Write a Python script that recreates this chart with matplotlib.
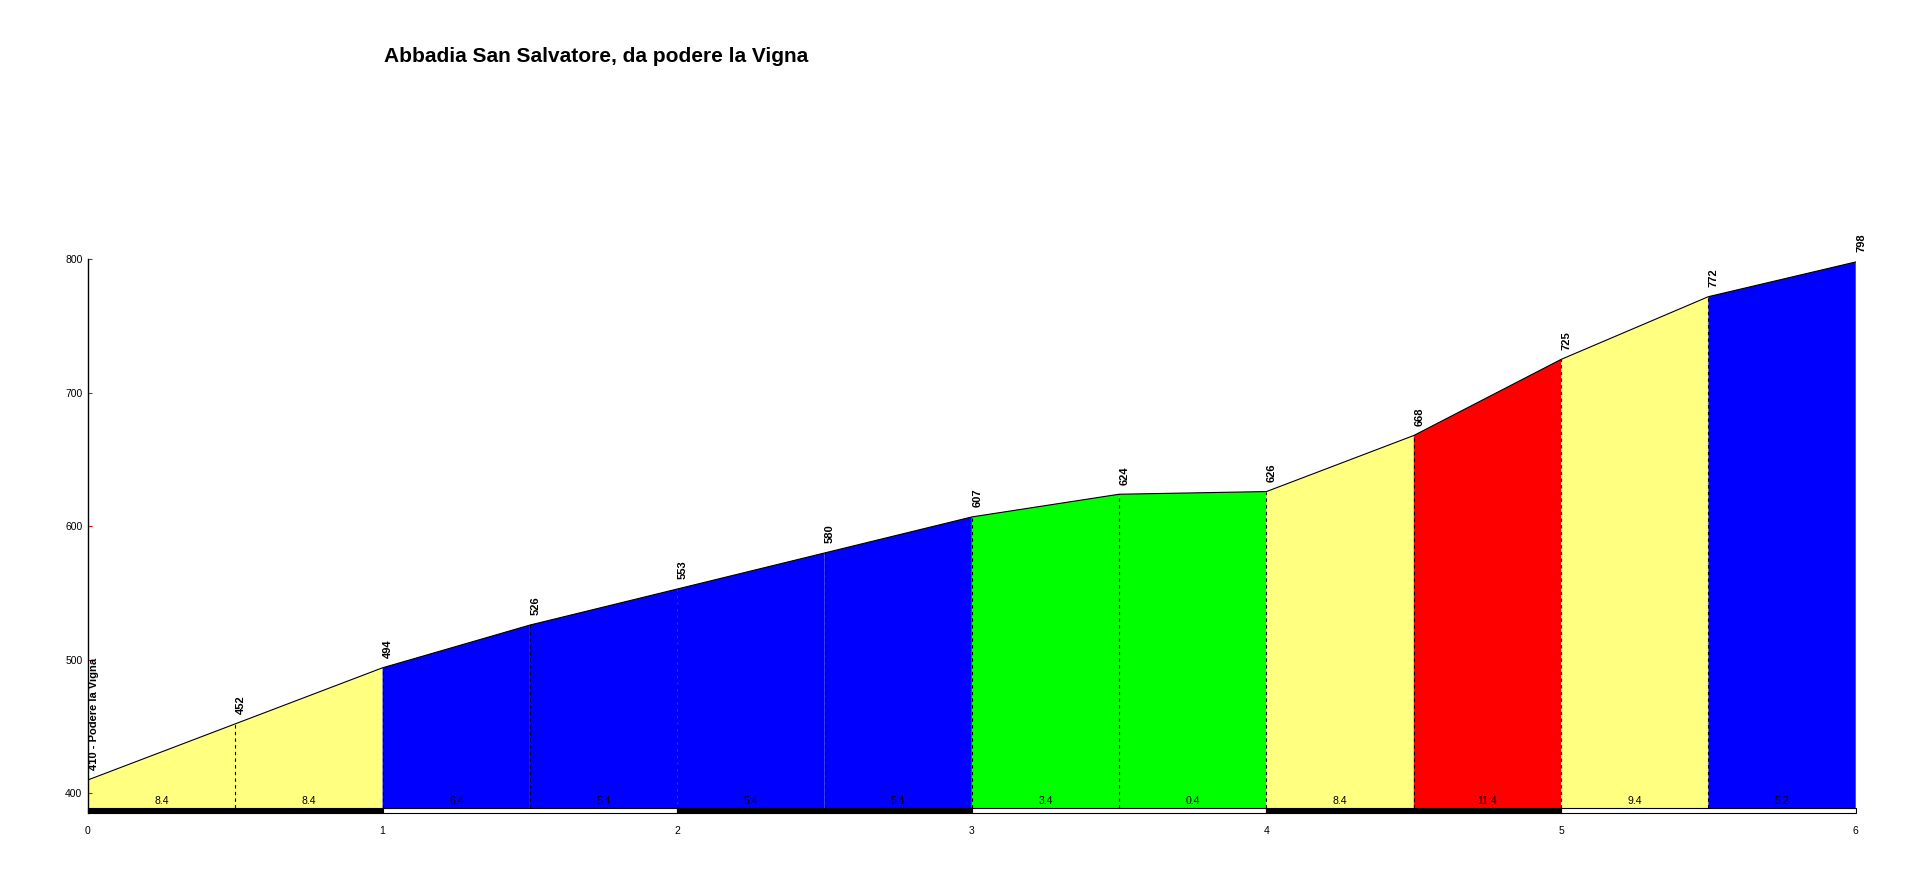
import matplotlib
matplotlib.use("Agg")
import matplotlib.pyplot as plt
from matplotlib.patches import Rectangle

plt.rcParams["font.family"] = ["Liberation Sans", "DejaVu Sans"]

# profile data (km, m)
km = [0, 0.5, 1, 1.5, 2, 2.5, 3, 3.5, 4, 4.5, 5, 5.5, 6]
elev = [410, 452, 494, 526, 553, 580, 607, 624, 626, 668, 725, 772, 798]
grades = ["8.4", "8.4", "6.4", "5.4", "5.4", "5.4", "3.4", "0.4", "8.4", "11.4", "9.4", "5.2"]
seg_colors = ["#FFFF80", "#FFFF80", "#0000FF", "#0000FF", "#0000FF", "#0000FF",
              "#00FF00", "#00FF00", "#FFFF80", "#FF0000", "#FFFF80", "#0000FF"]
start_name = "410 - Podere la Vigna"
title = "Abbadia San Salvatore, da podere la Vigna"

Y_BASE = 388.8
Y_BAR = 385

fig = plt.figure(figsize=(19.08, 8.73), dpi=100, facecolor="white")
ax = fig.add_axes([0.0461, 0.0684, 0.9265, 0.6346])
ax.set_xlim(0, 6)
ax.set_ylim(Y_BAR, 800)

# coloured segments
for i in range(len(km) - 1):
    ax.fill([km[i], km[i + 1], km[i + 1], km[i]],
            [Y_BASE, Y_BASE, elev[i + 1], elev[i]],
            color=seg_colors[i], lw=0, zorder=1)
    ax.text((km[i] + km[i + 1]) / 2, 394, grades[i], ha="center", va="center",
            fontsize=7.5, color="black", zorder=4)

# profile line
ax.plot(km, elev, color="black", lw=0.8, zorder=3)

# dashed separators
for x, y in zip(km[1:-1], elev[1:-1]):
    ax.plot([x, x], [Y_BASE, y], color="black", lw=0.8, ls=(0, (3, 3)), zorder=2)

# km bar
for k in range(6):
    ax.add_patch(Rectangle((k, Y_BAR), 1, Y_BASE - Y_BAR,
                           facecolor="black" if k % 2 == 0 else "white",
                           edgecolor="black", lw=0.8, zorder=3, clip_on=False))

# elevation labels
for i, (x, y) in enumerate(zip(km, elev)):
    label = start_name if i == 0 else str(y)
    ax.annotate(label, (x, y), xytext=(4, 7), textcoords="offset points",
                rotation=90, ha="center", va="bottom", fontsize=8,
                fontweight="bold", zorder=5, annotation_clip=False)

ax.set_yticks([400, 500, 600, 700, 800])
ax.set_xticks(range(7))
ax.tick_params(axis="y", direction="in", length=3, color="red", labelsize=7.5, pad=4)
ax.tick_params(axis="x", length=0, labelsize=7.5, pad=9)
for s in ("top", "right", "bottom"):
    ax.spines[s].set_visible(False)
ax.spines["left"].set_linewidth(1)

fig.text(384 / 1908, 1 - 57 / 873, title, fontsize=15, fontweight="bold",
         ha="left", va="center")

fig.savefig("out.png", dpi=100, facecolor="white")
